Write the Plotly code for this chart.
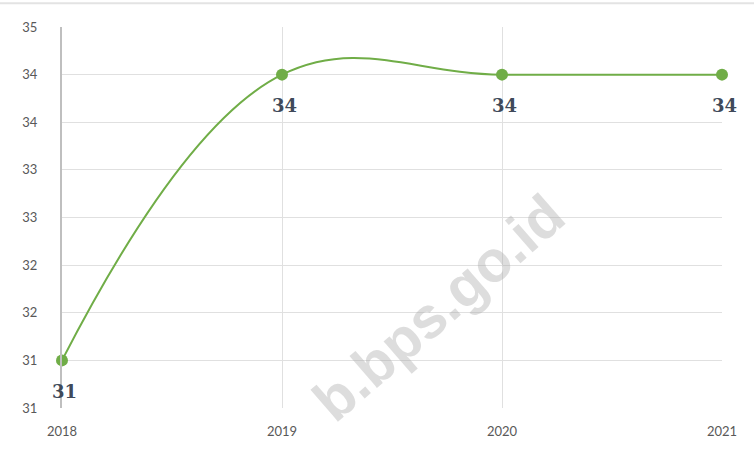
import plotly.graph_objects as go

years = [2018, 2019, 2020, 2021]
values = [31, 34, 34, 34]
labels = ["31", "34", "34", "34"]
ytick_vals = [30.5, 31, 31.5, 32, 32.5, 33, 33.5, 34, 34.5]
ytick_text = ["31", "31", "32", "32", "33", "33", "34", "34", "35"]

GREEN = "#70AD47"

fig = go.Figure()
fig.add_trace(go.Scatter(
    x=years, y=values, mode="lines+markers",
    line=dict(color=GREEN, width=2, shape="spline", smoothing=1.15),
    marker=dict(color=GREEN, size=12),
    cliponaxis=False, showlegend=False, hoverinfo="skip",
))

for x, y, t in zip(years, values, labels):
    fig.add_annotation(x=x, y=y, text=f"<b>{t}</b>", showarrow=False,
                       yshift=-31, xshift=2,
                       font=dict(family="DejaVu Serif, serif", size=18, color="#404A5A"))

# watermark
fig.add_annotation(x=0.57, y=0.263, xref="paper", yref="paper",
                   xanchor="center", yanchor="middle",
                   text="<b>b.bps.go.id</b>", showarrow=False, textangle=-41,
                   font=dict(family="Liberation Sans, Arial", size=58, color="rgba(165,165,165,0.38)"))

# top border line
fig.add_shape(type="line", xref="paper", yref="paper",
              x0=-62/660, x1=1+32/660, y0=1+24/384, y1=1+24/384,
              line=dict(color="#E3E3E3", width=2))

fig.update_layout(
    width=754, height=451,
    margin=dict(l=62, r=32, t=27, b=40),
    paper_bgcolor="white", plot_bgcolor="white",
    font=dict(family="Lato, sans-serif", size=13, color="#595959"),
    xaxis=dict(range=[2018, 2021], tickvals=years, ticktext=[str(y) for y in years],
               showgrid=True, gridcolor="#E0E0E0", gridwidth=1,
               zeroline=False, showline=False, ticks="", ticklabelstandoff=14),
    yaxis=dict(range=[30.5, 34.5], tickvals=ytick_vals, ticktext=ytick_text,
               showgrid=True, gridcolor="#E0E0E0", gridwidth=1,
               zeroline=False, showline=True, linecolor="#BFBFBF", linewidth=2,
               ticks="", ticklabelstandoff=20),
)

fig.write_html("out.html")
